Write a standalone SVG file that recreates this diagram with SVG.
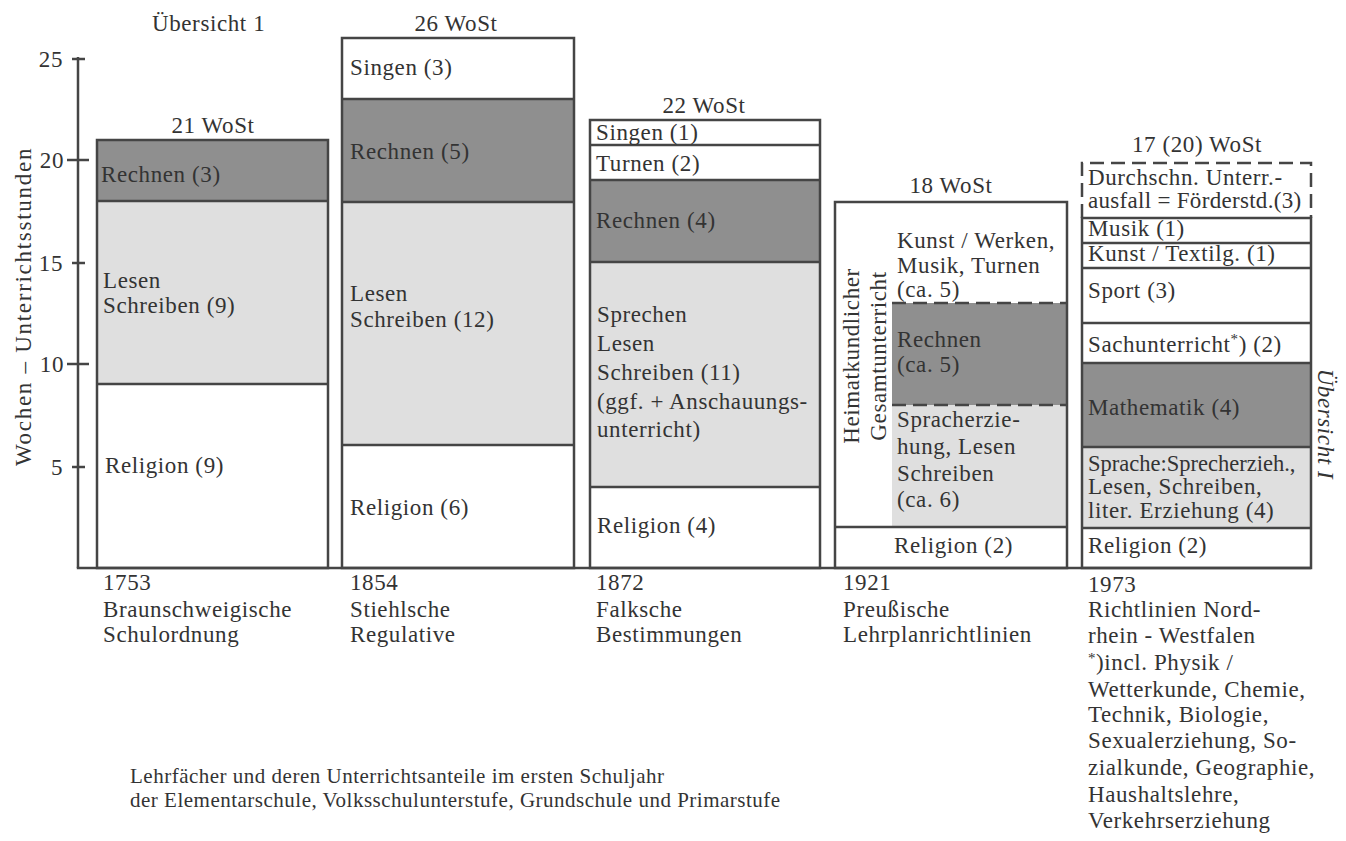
<svg xmlns="http://www.w3.org/2000/svg" width="1346" height="841" viewBox="0 0 1346 841">
<style>
.bg{fill:#ffffff}
.box{fill:none;stroke:#454545;stroke-width:2.5}
.ln{stroke:#454545;stroke-width:2.5}
.dash{fill:none;stroke:#454545;stroke-width:2.5;stroke-dasharray:14 7}
.dark{fill:#8f8f8f}
.light{fill:#dfdfdf}
.t{font-family:"Liberation Serif","Times New Roman",serif;font-size:23px;letter-spacing:0.6px;fill:#333333}
.c{text-anchor:middle}
.it{font-style:italic}
.cap{font-size:21px;letter-spacing:0.5px}
</style>
<rect class="bg" x="0" y="0" width="1346" height="841"/>

<g id="title">
<text class="t" x="152" y="31">Übersicht 1</text>
</g>

<g id="axis">
<line class="ln" x1="78" y1="57" x2="78" y2="568"/>
<line class="ln" x1="76.8" y1="568" x2="1311" y2="568"/>
<line class="ln" x1="72" y1="59" x2="85" y2="59"/>
<line class="ln" x1="67" y1="160" x2="89" y2="160"/>
<line class="ln" x1="72" y1="263" x2="85" y2="263"/>
<line class="ln" x1="67" y1="364" x2="89" y2="364"/>
<line class="ln" x1="72" y1="467" x2="85" y2="467"/>
<text class="t" x="63" y="67" text-anchor="end">25</text>
<text class="t" x="64" y="168" text-anchor="end">20</text>
<text class="t" x="63" y="271" text-anchor="end">15</text>
<text class="t" x="64" y="372" text-anchor="end">10</text>
<text class="t" x="63" y="475" text-anchor="end">5</text>
<text class="t c" transform="translate(31,307) rotate(-90)" x="0" y="0" textLength="318" lengthAdjust="spacing">Wochen – Unterrichtsstunden</text>
</g>

<g id="col-1753">
<rect class="dark" x="97" y="140" width="231" height="61"/>
<rect class="light" x="97" y="201" width="231" height="183"/>
<rect class="box" x="97" y="140" width="231" height="428"/>
<line class="ln" x1="97" y1="201" x2="328" y2="201"/>
<line class="ln" x1="97" y1="384" x2="328" y2="384"/>
<text class="t c" x="213" y="133">21 WoSt</text>
<text class="t" x="101" y="182">Rechnen (3)</text>
<text class="t" x="103" y="288">Lesen</text>
<text class="t" x="103" y="313">Schreiben (9)</text>
<text class="t" x="105" y="473">Religion (9)</text>
<text class="t" x="103" y="590">1753</text>
<text class="t" x="103" y="617">Braunschweigische</text>
<text class="t" x="103" y="642">Schulordnung</text>
</g>

<g id="col-1854">
<rect class="dark" x="342" y="99" width="232" height="103"/>
<rect class="light" x="342" y="202" width="232" height="243"/>
<rect class="box" x="342" y="38" width="232" height="530"/>
<line class="ln" x1="342" y1="99" x2="574" y2="99"/>
<line class="ln" x1="342" y1="202" x2="574" y2="202"/>
<line class="ln" x1="342" y1="445" x2="574" y2="445"/>
<text class="t c" x="456" y="31">26 WoSt</text>
<text class="t" x="350" y="75">Singen (3)</text>
<text class="t" x="350" y="159">Rechnen (5)</text>
<text class="t" x="350" y="301">Lesen</text>
<text class="t" x="350" y="327">Schreiben (12)</text>
<text class="t" x="350" y="515">Religion (6)</text>
<text class="t" x="350" y="590">1854</text>
<text class="t" x="350" y="617">Stiehlsche</text>
<text class="t" x="350" y="642">Regulative</text>
</g>

<g id="col-1872">
<rect class="dark" x="590" y="180" width="230" height="82"/>
<rect class="light" x="590" y="262" width="230" height="225"/>
<rect class="box" x="590" y="120" width="230" height="448"/>
<line class="ln" x1="590" y1="145" x2="820" y2="145"/>
<line class="ln" x1="590" y1="180" x2="820" y2="180"/>
<line class="ln" x1="590" y1="262" x2="820" y2="262"/>
<line class="ln" x1="590" y1="487" x2="820" y2="487"/>
<text class="t c" x="704" y="113">22 WoSt</text>
<text class="t" x="596" y="140">Singen (1)</text>
<text class="t" x="596" y="171">Turnen (2)</text>
<text class="t" x="596" y="228">Rechnen (4)</text>
<text class="t" x="597" y="322">Sprechen</text>
<text class="t" x="597" y="351">Lesen</text>
<text class="t" x="597" y="380">Schreiben (11)</text>
<text class="t" x="597" y="409">(ggf. + Anschauungs-</text>
<text class="t" x="597" y="437">unterricht)</text>
<text class="t" x="597" y="533">Religion (4)</text>
<text class="t" x="596" y="590">1872</text>
<text class="t" x="596" y="617">Falksche</text>
<text class="t" x="596" y="642">Bestimmungen</text>
</g>

<g id="col-1921">
<rect class="dark" x="892" y="303" width="175" height="102"/>
<rect class="light" x="892" y="405" width="175" height="122"/>
<rect class="box" x="835" y="202" width="232" height="366"/>
<line class="dash" x1="892" y1="303" x2="1067" y2="303"/>
<line class="dash" x1="892" y1="405" x2="1067" y2="405"/>
<line class="ln" x1="835" y1="527" x2="1067" y2="527"/>
<text class="t c" x="951" y="193">18 WoSt</text>
<text class="t c" transform="translate(859,356) rotate(-90)" x="0" y="0">Heimatkundlicher</text>
<text class="t c" transform="translate(886,356) rotate(-90)" x="0" y="0">Gesamtunterricht</text>
<text class="t" x="897" y="248">Kunst / Werken,</text>
<text class="t" x="897" y="273">Musik, Turnen</text>
<text class="t" x="897" y="297">(ca. 5)</text>
<text class="t" x="897" y="347">Rechnen</text>
<text class="t" x="897" y="372">(ca. 5)</text>
<text class="t" x="897" y="427">Spracherzie-</text>
<text class="t" x="897" y="454">hung, Lesen</text>
<text class="t" x="897" y="481">Schreiben</text>
<text class="t" x="897" y="507">(ca. 6)</text>
<text class="t" x="894" y="553">Religion (2)</text>
<text class="t" x="843" y="590">1921</text>
<text class="t" x="843" y="617">Preußische</text>
<text class="t" x="843" y="642">Lehrplanrichtlinien</text>
</g>

<g id="col-1973">
<rect class="dark" x="1082" y="363" width="229" height="84"/>
<rect class="light" x="1082" y="447" width="229" height="81"/>
<path class="dash" d="M1082,218 V163 H1311 V218"/>
<rect class="box" x="1082" y="218" width="229" height="350"/>
<line class="ln" x1="1082" y1="243" x2="1311" y2="243"/>
<line class="ln" x1="1082" y1="268" x2="1311" y2="268"/>
<line class="ln" x1="1082" y1="323" x2="1311" y2="323"/>
<line class="ln" x1="1082" y1="363" x2="1311" y2="363"/>
<line class="ln" x1="1082" y1="447" x2="1311" y2="447"/>
<line class="ln" x1="1082" y1="528" x2="1311" y2="528"/>
<text class="t c" x="1197" y="152">17 (20) WoSt</text>
<text class="t" x="1088" y="185">Durchschn. Unterr.-</text>
<text class="t" x="1088" y="208" style="letter-spacing:0.3px">ausfall = Förderstd.(3)</text>
<text class="t" x="1088" y="236">Musik (1)</text>
<text class="t" x="1088" y="261">Kunst / Textilg. (1)</text>
<text class="t" x="1088" y="298">Sport (3)</text>
<text class="t" x="1088" y="352">Sachunterricht<tspan dy="-8" font-size="15">*</tspan><tspan dy="8">) (2)</tspan></text>
<text class="t" x="1088" y="415">Mathematik (4)</text>
<text class="t" x="1088" y="471" style="letter-spacing:0px;font-size:22.5px">Sprache:Sprecherzieh.,</text>
<text class="t" x="1088" y="494">Lesen, Schreiben,</text>
<text class="t" x="1088" y="518">liter. Erziehung (4)</text>
<text class="t" x="1088" y="553">Religion (2)</text>
<text class="t" x="1088" y="592">1973</text>
<text class="t" x="1088" y="617">Richtlinien Nord-</text>
<text class="t" x="1088" y="643">rhein - Westfalen</text>
<text class="t" x="1088" y="670"><tspan dy="-7" font-size="15">*</tspan><tspan dy="7">)incl. Physik /</tspan></text>
<text class="t" x="1088" y="697">Wetterkunde, Chemie,</text>
<text class="t" x="1088" y="722">Technik, Biologie,</text>
<text class="t" x="1088" y="748">Sexualerziehung, So-</text>
<text class="t" x="1088" y="775">zialkunde, Geographie,</text>
<text class="t" x="1088" y="802">Haushaltslehre,</text>
<text class="t" x="1088" y="828">Verkehrserziehung</text>
</g>

<g id="side-label">
<text class="t c it" transform="translate(1318,424) rotate(90)" x="0" y="0">Übersicht I</text>
</g>

<g id="caption">
<text class="t cap" x="130" y="783">Lehrfächer und deren Unterrichtsanteile im ersten Schuljahr</text>
<text class="t cap" x="130" y="807">der Elementarschule, Volksschulunterstufe, Grundschule und Primarstufe</text>
</g>
</svg>
